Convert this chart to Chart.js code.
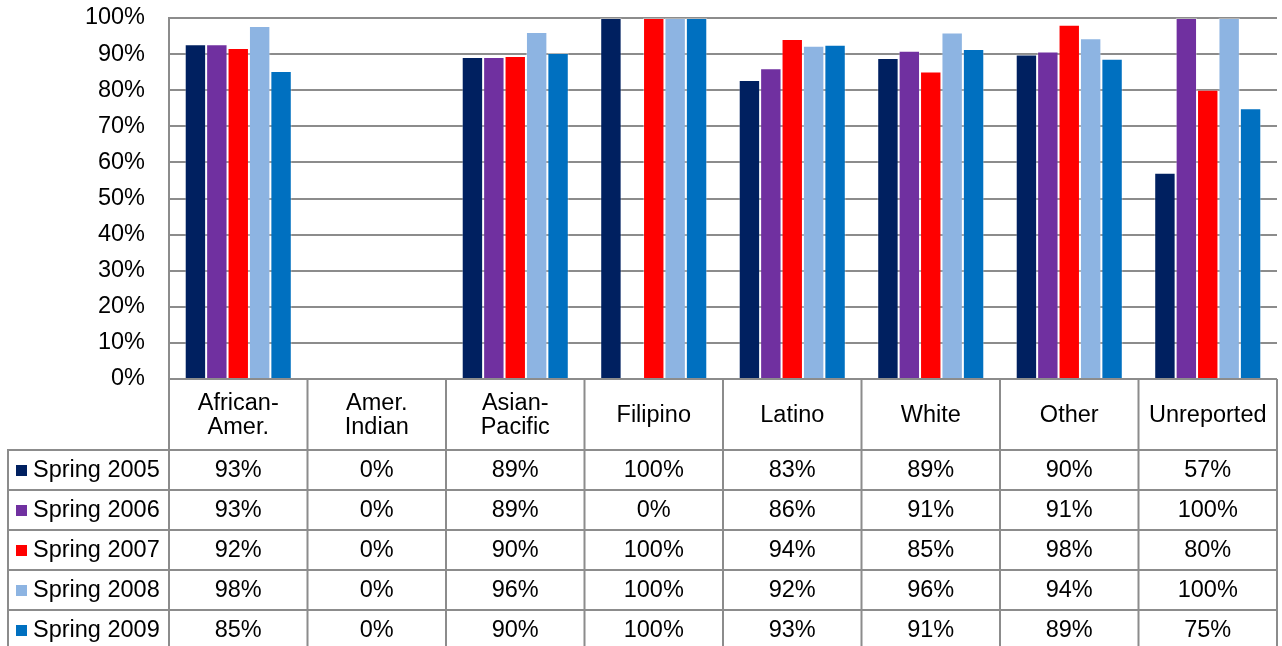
<!DOCTYPE html>
<html>
<head>
<meta charset="utf-8">
<script src="https://cdn.jsdelivr.net/npm/chart.js@4/dist/chart.umd.min.js"></script>
<style>
  html, body { margin: 0; padding: 0; background: #fff; }
  #wrap { width: 1282px; height: 646px; position: relative; }
</style>
</head>
<body>
<div id="wrap"><canvas id="c" width="1282" height="646"></canvas></div>
<script>
const categories = [["African-", "Amer."], ["Amer.", "Indian"], ["Asian-", "Pacific"], "Filipino", "Latino", "White", "Other", "Unreported"];
const seriesNames = ["Spring 2005", "Spring 2006", "Spring 2007", "Spring 2008", "Spring 2009"];
const spring2005 = [92.7, 0, 89.2, 100, 82.8, 88.9, 89.9, 57.1];
const spring2006 = [92.7, 0, 89.2, 0, 86.1, 90.9, 90.7, 100];
const spring2007 = [91.7, 0, 89.5, 100, 94.2, 85.2, 98.1, 80.1];
const spring2008 = [97.8, 0, 96.1, 100, 92.3, 96.0, 94.4, 100];
const spring2009 = [85.3, 0, 90.3, 100, 92.6, 91.4, 88.7, 75.0];
const seriesColors = ["#002060", "#7030A0", "#FF0000", "#8DB4E2", "#0070C0"];
const yTickValues = [0, 10, 20, 30, 40, 50, 60, 70, 80, 90, 100];

const FONT = "'Liberation Sans', Arial, sans-serif";
const FS = 23.5;
const GRID = "#8c8c8c";

const seriesValues = [spring2005, spring2006, spring2007, spring2008, spring2009];

const tablePlugin = {
  id: 'dataTable',
  afterDraw(chart) {
    const ctx = chart.ctx;
    const x = chart.scales.x;
    const ca = chart.chartArea;
    const n = categories.length;
    const colW = (ca.right - ca.left) / n;
    const headTop = ca.bottom;
    const headBottom = headTop + 71;
    const rowH = 40;
    const tableBottom = headBottom + rowH * seriesNames.length;
    const legendLeft = 8;

    ctx.save();
    ctx.strokeStyle = GRID;
    ctx.lineWidth = 2;
    ctx.beginPath();
    for (let i = 0; i <= n; i++) {
      const px = i === n ? ca.right : x.getPixelForTick(i) - colW / 2;
      ctx.moveTo(px, headTop);
      ctx.lineTo(px, tableBottom);
    }
    ctx.moveTo(legendLeft, headBottom);
    ctx.lineTo(legendLeft, tableBottom);
    for (let r = 0; r <= seriesNames.length; r++) {
      const py = headBottom + r * rowH;
      ctx.moveTo(legendLeft - 1, py);
      ctx.lineTo(ca.right + 1, py);
    }
    ctx.stroke();

    ctx.fillStyle = "#000";
    ctx.font = FS + "px " + FONT;
    ctx.textAlign = "center";
    ctx.textBaseline = "middle";
    const headMid = (headTop + headBottom) / 2;
    categories.forEach((c, i) => {
      const cx = x.getPixelForTick(i);
      const lines = Array.isArray(c) ? c : [c];
      const lh = 24;
      lines.forEach((ln, k) => {
        const cy = headMid + (k - (lines.length - 1) / 2) * lh + 1;
        ctx.fillText(ln, cx, cy);
      });
    });
    seriesNames.forEach((name, r) => {
      const cy = headBottom + r * rowH + rowH / 2 + 1;
      ctx.fillStyle = seriesColors[r];
      ctx.fillRect(16, cy - 6, 11, 11);
      ctx.fillStyle = "#000";
      ctx.textAlign = "left";
      ctx.fillText(name, 33, cy);
      ctx.textAlign = "center";
      seriesValues[r].forEach((v, i) => {
        ctx.fillText(Math.round(v) + "%", x.getPixelForTick(i), cy);
      });
    });
    ctx.restore();
  }
};

new Chart(document.getElementById('c'), {
  type: 'bar',
  data: {
    labels: categories,
    datasets: seriesNames.map((name, i) => ({
      label: name,
      data: seriesValues[i],
      backgroundColor: seriesColors[i],
      borderColor: 'rgba(255,255,255,0.35)',
      borderWidth: 1,
      categoryPercentage: 0.773,
      barPercentage: 1.0
    }))
  },
  options: {
    responsive: false,
    animation: false,
    layout: { padding: { top: 18, bottom: 267, right: 5, left: 0 } },
    plugins: { legend: { display: false }, tooltip: { enabled: false } },
    scales: {
      x: { display: false },
      y: {
        min: 0, max: 100,
        afterBuildTicks(axis) { axis.ticks = yTickValues.map(v => ({ value: v })); },
        afterFit(axis) { axis.width = 169; axis.paddingTop = 0; axis.paddingBottom = 0; },
        ticks: {
          padding: 24,
          color: "#000",
          font: { family: FONT, size: FS },
          callback: v => v + "%"
        },
        grid: { color: GRID, lineWidth: 2, drawTicks: false },
        border: { color: GRID, width: 2 }
      }
    }
  },
  plugins: [tablePlugin]
});
</script>
</body>
</html>
